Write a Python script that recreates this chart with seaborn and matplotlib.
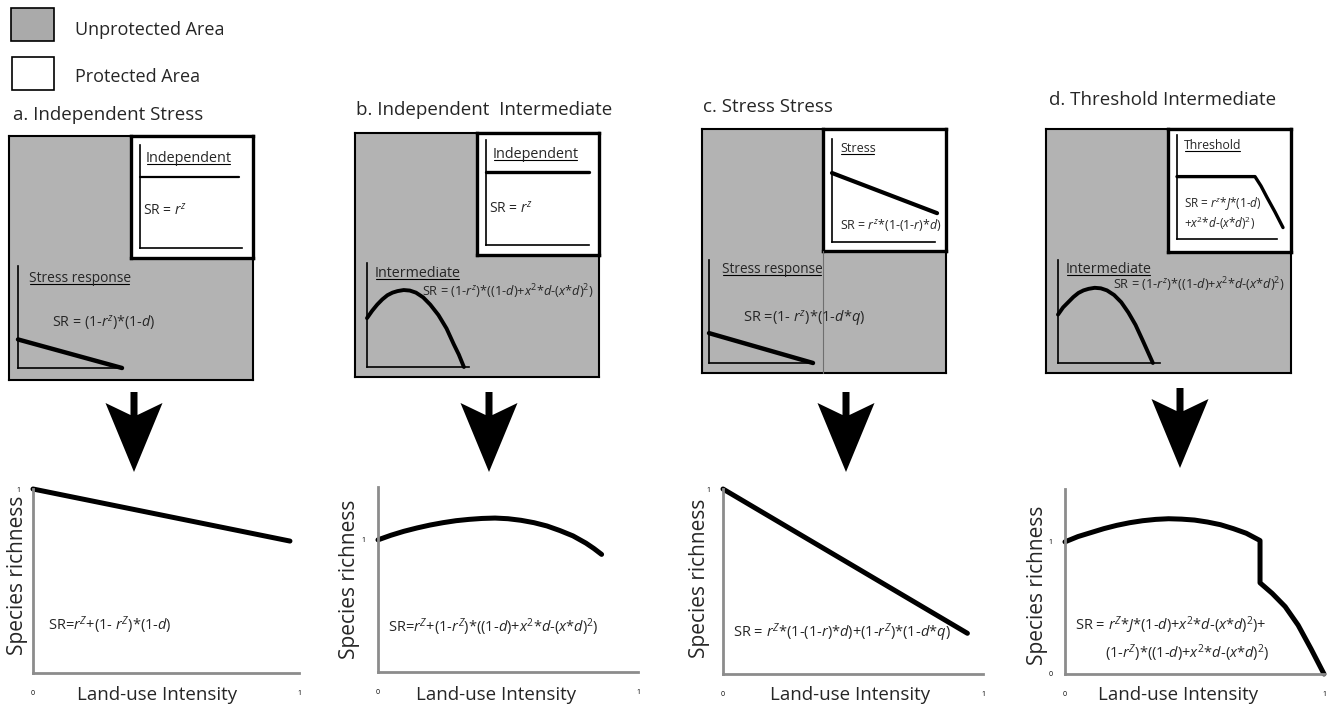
import matplotlib
matplotlib.use("Agg")
import matplotlib.pyplot as plt
import numpy as np
import seaborn as sns
from matplotlib.patches import Polygon, Rectangle

W, H = 1331, 709
FONT = "Open Sans"

# ---------------------------------------------------------------------------
# Data
# ---------------------------------------------------------------------------

# bottom row: species richness vs land-use intensity (whole landscape)
a_x = [0.0, 0.966]
a_y = [1.0, 0.717]
b_x = [0.0, 0.05, 0.1, 0.15, 0.2, 0.25, 0.3, 0.35, 0.4, 0.45, 0.5,
       0.55, 0.6, 0.65, 0.7, 0.75, 0.8, 0.83, 0.86]
b_y = [1.0, 1.035, 1.065, 1.09, 1.112, 1.13, 1.145, 1.155, 1.162, 1.165, 1.16,
       1.148, 1.13, 1.105, 1.07, 1.03, 0.975, 0.935, 0.89]
c_x = [0.0, 0.94]
c_y = [1.0, 0.22]
d_x = [0.0, 0.05, 0.1, 0.15, 0.2, 0.25, 0.3, 0.35, 0.4, 0.45, 0.5, 0.55, 0.6,
       0.65, 0.7, 0.753, 0.753, 0.8, 0.85, 0.9, 0.95, 1.0]
d_y = [1.0, 1.04, 1.07, 1.1, 1.125, 1.145, 1.16, 1.17, 1.175, 1.172, 1.165, 1.15, 1.13,
       1.1, 1.065, 1.01, 0.69, 0.61, 0.51, 0.37, 0.19, 0.0]

# top row sketches (unitless), protected inset and unprotected area
a_prot_x = [0.0, 0.97]
a_prot_y = [0.69, 0.69]
a_unp_x = [0.0, 1.0]
a_unp_y = [0.28, 0.0]

b_prot_x = [0.0, 1.0]
b_prot_y = [0.695, 0.695]
b_unp_x = [0.0, 0.05, 0.1, 0.15, 0.2, 0.25, 0.3, 0.36, 0.42, 0.48, 0.55,
           0.62, 0.7, 0.78, 0.85, 0.9, 0.95]
b_unp_y = [0.47, 0.54, 0.60, 0.65, 0.69, 0.715, 0.73, 0.74, 0.735, 0.715, 0.67,
           0.60, 0.50, 0.37, 0.22, 0.12, 0.0]

c_prot_x = [0.0, 1.02]
c_prot_y = [0.67, 0.28]
c_unp_x = [0.0, 1.0]
c_unp_y = [0.29, 0.0]

d_prot_x = [0.0, 0.78, 0.84, 0.9, 0.98, 1.06]
d_prot_y = [0.60, 0.60, 0.51, 0.40, 0.26, 0.11]
d_unp_x = [0.0, 0.05, 0.1, 0.15, 0.2, 0.25, 0.3, 0.36, 0.42, 0.48, 0.55,
           0.62, 0.69, 0.76, 0.83, 0.88, 0.93]
d_unp_y = [0.47, 0.54, 0.59, 0.64, 0.68, 0.705, 0.72, 0.73, 0.725, 0.705, 0.66,
           0.59, 0.49, 0.37, 0.22, 0.11, 0.0]

# texts
legend_labels = ["Unprotected Area", "Protected Area"]
titles = ["a. Independent Stress", "b. Independent  Intermediate",
          "c. Stress Stress", "d. Threshold Intermediate"]
prot_labels = ["Independent", "Independent", "Stress", "Threshold"]
unp_labels = ["Stress response", "Intermediate", "Stress response", "Intermediate"]
prot_formulas = [
    ["SR = $r^{z}$"],
    ["SR = $r^{z}$"],
    ["SR = $r^{z}$*(1-(1-$r$)*$d$)"],
    ["SR = $r^{z}$*$J$*(1-$d$)", "+$x^{2}$*$d$-($x$*$d$)$^{2}$)"],
]
unp_formulas = [
    "SR = (1-$r^{z}$)*(1-$d$)",
    "SR = (1-$r^{z}$)*((1-$d$)+$x^{2}$*$d$-($x$*$d$)$^{2}$)",
    "SR =(1- $r^{z}$)*(1-$d$*$q$)",
    "SR = (1-$r^{z}$)*((1-$d$)+$x^{2}$*$d$-($x$*$d$)$^{2}$)",
]
bottom_formulas = [
    ["SR=$r^{Z}$+(1- $r^{Z}$)*(1-$d$)"],
    ["SR=$r^{Z}$+(1-$r^{Z}$)*((1-$d$)+$x^{2}$*$d$-($x$*$d$)$^{2}$)"],
    ["SR = $r^{Z}$*(1-(1-$r$)*$d$)+(1-$r^{Z}$)*(1-$d$*$q$)"],
    ["SR = $r^{Z}$*$J$*(1-$d$)+$x^{2}$*$d$-($x$*$d$)$^{2}$)+",
     "(1-$r^{Z}$)*((1-$d$)+$x^{2}$*$d$-($x$*$d$)$^{2}$)"],
]
y_max = [1.0, 1.4, 1.0, 1.4]
y_zero_label = [False, False, False, True]

bottom_series = [(a_x, a_y), (b_x, b_y), (c_x, c_y), (d_x, d_y)]
prot_series = [(a_prot_x, a_prot_y), (b_prot_x, b_prot_y),
               (c_prot_x, c_prot_y), (d_prot_x, d_prot_y)]
unp_series = [(a_unp_x, a_unp_y), (b_unp_x, b_unp_y),
              (c_unp_x, c_unp_y), (d_unp_x, d_unp_y)]

# ---------------------------------------------------------------------------
# Layout (pixel boxes: x0, y0, x1, y1; text anchors are baselines)
# ---------------------------------------------------------------------------

LAYOUT = [
    dict(title=(13, 120), box=(9, 136, 253, 380), inset=(131, 136, 253, 258),
         prot=(140, 145, 242, 248), unp=(18, 266, 122, 368),
         prot_lab=(146, 162), prot_f=[(143, 215)], unp_lab=(29, 282), unp_f=(52, 328),
         lab_fs=(10.4, 9.9), f_fs=(10, 10.3),
         prot_lw=1.6, unp_lw=3.2, arrow=(134, 392),
         bottom=(33, 489, 299, 673), bf=[(48, 630)], ylab=(18, 575), xlab=(157, 700)),
    dict(title=(356, 115), box=(355, 133, 599, 377), inset=(477, 133, 599, 255),
         prot=(486, 140, 589, 245), unp=(367, 263, 469, 367),
         prot_lab=(493, 158), prot_f=[(489, 213)], unp_lab=(375, 277), unp_f=(422, 296),
         lab_fs=(10.4, 10.3), f_fs=(10, 9.2),
         prot_lw=2.4, unp_lw=2.8, arrow=(489, 392),
         bottom=(378, 487, 638, 672), bf=[(388, 632)], ylab=(350, 579), xlab=(496, 700)),
    dict(title=(703, 112), box=(702, 129, 946, 373), inset=(823, 129, 946, 251),
         prot=(832, 139, 935, 242), unp=(709, 260, 813, 363),
         prot_lab=(840, 152), prot_f=[(840, 229)], unp_lab=(722, 273), unp_f=(743, 323),
         lab_fs=(9, 9.8), f_fs=(8.9, 10.5),
         prot_lw=3.0, unp_lw=3.2, arrow=(846, 392),
         bottom=(723, 489, 983, 674), bf=[(733, 637)], ylab=(699, 578), xlab=(850, 700)),
    dict(title=(1049, 105), box=(1046, 129, 1291, 373), inset=(1168, 129, 1291, 252),
         prot=(1177, 135, 1277, 239), unp=(1058, 260, 1160, 363),
         prot_lab=(1184, 149), prot_f=[(1184, 207), (1184, 228)], unp_lab=(1066, 273),
         unp_f=(1113, 289), lab_fs=(8.8, 10.3), f_fs=(8.5, 9.2),
         prot_lw=2.4, unp_lw=2.8, arrow=(1180, 388),
         bottom=(1065, 489, 1324, 674), bf=[(1075, 630), (1105, 658)],
         ylab=(1038, 585), xlab=(1178, 700)),
]

GRAY_FILL = "#b3b3b3"
AXIS_GRAY = "#8c8c8c"

sns.set_style("white")
plt.rcParams["font.family"] = [FONT, "DejaVu Sans"]
plt.rcParams["mathtext.fontset"] = "custom"
plt.rcParams["mathtext.rm"] = FONT
plt.rcParams["mathtext.it"] = FONT + ":italic"
plt.rcParams["mathtext.bf"] = FONT + ":bold"

fig = plt.figure(figsize=(W / 100, H / 100), dpi=100)


def fbox(x0, y0, x1, y1):
    return [x0 / W, 1 - y1 / H, (x1 - x0) / W, (y1 - y0) / H]


def frame_axes(box, face, lw):
    ax = fig.add_axes(fbox(*box))
    ax.set_facecolor(face)
    ax.set_xticks([])
    ax.set_yticks([])
    for s in ax.spines.values():
        s.set_color("black")
        s.set_linewidth(lw)
    return ax


def sketch_axes(box, x, y, lw):
    ax = fig.add_axes(fbox(*box))
    ax.patch.set_alpha(0)
    sns.lineplot(x=x, y=y, ax=ax, color="black", linewidth=lw,
                 estimator=None, sort=False, clip_on=False)
    ax.set_xlim(0, 1)
    ax.set_ylim(0, 1)
    ax.set_xticks([])
    ax.set_yticks([])
    ax.set_xlabel("")
    ax.set_ylabel("")
    for s in ["top", "right"]:
        ax.spines[s].set_visible(False)
    for s in ["left", "bottom"]:
        ax.spines[s].set_color("black")
        ax.spines[s].set_linewidth(1.2)
    return ax


def result_axes(box, x, y, ymax, zero_label, ylab, xlab):
    ax = fig.add_axes(fbox(*box))
    ax.patch.set_alpha(0)
    sns.lineplot(x=x, y=y, ax=ax, color="black", linewidth=3.6,
                 estimator=None, sort=False, clip_on=False)
    ax.set_xlim(0, 1)
    ax.set_ylim(0, ymax)
    xt = np.round(np.arange(0, 1.0001, 0.2), 2)
    yt = np.round(np.arange(0, ymax + 0.0001, 0.2), 2)
    ax.set_xticks(xt)
    ax.set_xticklabels(["0" if v == 0 else "1" if v == 1 else "" for v in xt])
    ax.set_yticks(yt)
    ax.set_yticklabels(["1" if v == 1 else ("0" if (v == 0 and zero_label) else "")
                        for v in yt])
    for s in ["top", "right"]:
        ax.spines[s].set_visible(False)
    for s in ["left", "bottom"]:
        ax.spines[s].set_color(AXIS_GRAY)
        ax.spines[s].set_linewidth(2)
    ax.tick_params(axis="both", direction="out", color=AXIS_GRAY, length=4,
                   width=1.4, labelsize=5, labelcolor="black")
    ax.tick_params(axis="x", pad=8)
    ax.tick_params(axis="y", pad=5)
    x0, y0, x1, y1 = box
    ax.set_ylabel("Species richness", fontsize=15)
    ax.yaxis.set_label_coords((ylab[0] - x0) / (x1 - x0), (y1 - ylab[1]) / (y1 - y0))
    ax.yaxis.label.set_va("center")
    ax.set_xlabel("Land-use Intensity", fontsize=13.5)
    ax.xaxis.set_label_coords((xlab[0] - x0) / (x1 - x0), (y1 - xlab[1]) / (y1 - y0))
    ax.xaxis.label.set_va("baseline")
    return ax


# overlay in pixel coordinates for legend, titles, notes and arrows
ov = fig.add_axes([0, 0, 1, 1])
ov.set_xlim(0, W)
ov.set_ylim(H, 0)
ov.axis("off")
ov.set_zorder(10)
ov.patch.set_alpha(0)

ov.add_patch(Rectangle((11, 8), 43, 33, facecolor="#aaaaaa", edgecolor="black", lw=1.2))
ov.add_patch(Rectangle((12, 57), 42, 33, facecolor="white", edgecolor="black", lw=1.2))
ov.text(75, 35, legend_labels[0], fontsize=13, va="baseline")
ov.text(75, 82, legend_labels[1], fontsize=13, va="baseline")

underlined = []
for i, L in enumerate(LAYOUT):
    frame_axes(L["box"], GRAY_FILL, 1.5)
    frame_axes(L["inset"], "white", 2.4)
    sketch_axes(L["prot"], *prot_series[i], L["prot_lw"])
    sketch_axes(L["unp"], *unp_series[i], L["unp_lw"])
    result_axes(L["bottom"], *bottom_series[i], y_max[i], y_zero_label[i],
                L["ylab"], L["xlab"])

    ov.text(*L["title"], titles[i], fontsize=13.5, va="baseline")
    t = ov.text(*L["prot_lab"], prot_labels[i], fontsize=L["lab_fs"][0], va="baseline")
    underlined.append((t, L["prot_lab"][1]))
    t = ov.text(*L["unp_lab"], unp_labels[i], fontsize=L["lab_fs"][1], va="baseline")
    underlined.append((t, L["unp_lab"][1]))
    for (fx, fy), s in zip(L["prot_f"], prot_formulas[i]):
        ov.text(fx, fy, s, fontsize=L["f_fs"][0], va="baseline")
    ov.text(*L["unp_f"], unp_formulas[i], fontsize=L["f_fs"][1], va="baseline")
    for (fx, fy), s in zip(L["bf"], bottom_formulas[i]):
        ov.text(fx, fy, s, fontsize=10.5, va="baseline")

    # thick down arrow between the landscape sketch and the result
    cx, top = L["arrow"]
    ov.add_patch(Polygon([(cx - 3.5, top), (cx + 3.5, top), (cx + 3.5, top + 23),
                          (cx + 28.5, top + 11), (cx, top + 80), (cx - 28.5, top + 11),
                          (cx - 3.5, top + 23)], closed=True, facecolor="black",
                         edgecolor="none"))

# thin divider continuing the protected inset edge in panel c
ov.plot([823, 823], [251, 373], color="#6f6f6f", lw=0.8)

# underline the sketch labels
fig.canvas.draw()
inv = ov.transData.inverted()
for t, yb in underlined:
    bb = t.get_window_extent()
    (xa, _), (xb, _) = inv.transform([[bb.x0, bb.y0], [bb.x1, bb.y1]])
    ov.plot([xa + 1, xb - 2], [yb + 2, yb + 2], color="black", lw=0.8)

fig.savefig("out.png", dpi=100)
